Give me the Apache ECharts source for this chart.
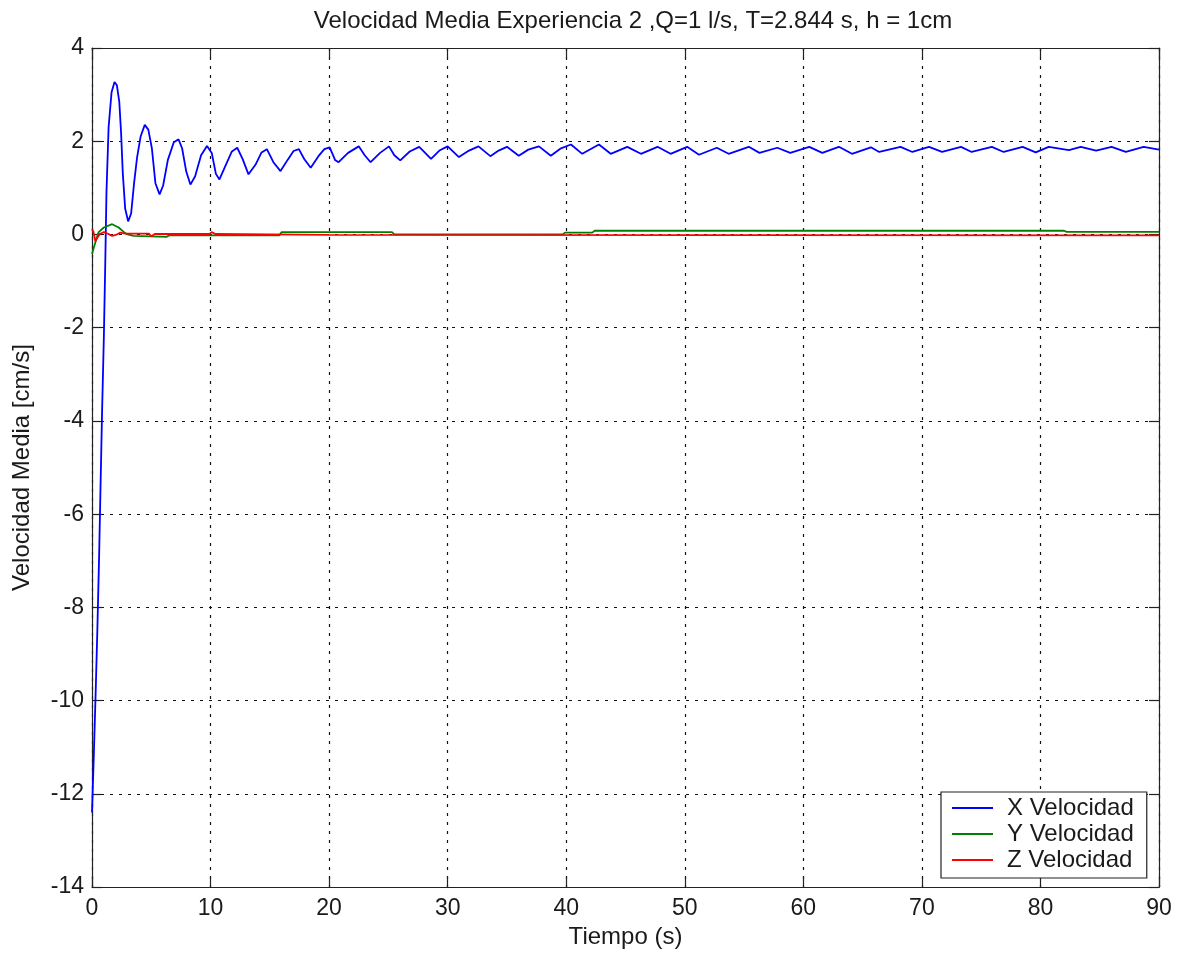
<!DOCTYPE html>
<html>
<head>
<meta charset="utf-8">
<script src="https://cdn.jsdelivr.net/npm/echarts@6/dist/echarts.min.js"></script>
<style>
  html, body { margin: 0; padding: 0; background: #fff; }
  #chart { width: 1177px; height: 954px; }
</style>
</head>
<body>
<div id="chart"></div>
<script>
// Mean velocity components over time (cm/s)
const timeX = [0.0, 0.15, 0.3, 0.45, 0.6, 0.72, 0.85, 1.0, 1.12, 1.22, 1.4, 1.65, 1.9, 2.1, 2.3, 2.45, 2.6, 2.8, 3.05, 3.3, 3.55, 3.8, 4.1, 4.45, 4.75, 5.05, 5.35, 5.7, 6.0, 6.4, 6.9, 7.3, 7.6, 7.95, 8.3, 8.7, 9.2, 9.7, 10.1, 10.45, 10.75, 11.3, 11.8, 12.25, 12.7, 13.2, 13.8, 14.3, 14.75, 15.3, 15.9, 16.5, 17.0, 17.45, 17.9, 18.45, 19.1, 19.6, 20.05, 20.5, 20.8, 21.6, 22.5, 23.0, 23.5, 24.3, 25.05, 25.5, 26.0, 26.8, 27.6, 28.6, 29.3, 30.0, 30.95, 31.8, 32.6, 33.6, 34.3, 35.0, 36.0, 36.8, 37.7, 38.7, 39.5, 40.4, 41.35, 42.76, 43.75, 45.15, 46.3, 47.7, 48.8, 50.2, 51.2, 52.7, 53.7, 55.4, 56.3, 57.8, 58.9, 60.5, 61.6, 63.0, 64.1, 65.7, 66.4, 68.2, 69.2, 70.6, 71.7, 73.3, 74.2, 75.9, 76.9, 78.5, 79.6, 80.7, 82.4, 83.4, 84.7, 86.0, 87.2, 88.7, 90.0];
const velX = [-12.4, -11.2, -9.9, -8.5, -6.9, -5.4, -3.8, -2.2, -0.6, 0.9, 2.3, 3.05, 3.27, 3.2, 2.85, 2.2, 1.3, 0.55, 0.28, 0.45, 1.1, 1.65, 2.1, 2.35, 2.25, 1.85, 1.1, 0.86, 1.05, 1.6, 1.98, 2.04, 1.85, 1.35, 1.07, 1.25, 1.7, 1.9, 1.75, 1.3, 1.18, 1.5, 1.78, 1.86, 1.62, 1.29, 1.5, 1.76, 1.83, 1.55, 1.36, 1.6, 1.79, 1.83, 1.62, 1.43, 1.68, 1.83, 1.87, 1.6, 1.55, 1.75, 1.89, 1.7, 1.55, 1.75, 1.89, 1.7, 1.59, 1.78, 1.88, 1.62, 1.8, 1.89, 1.66, 1.8, 1.89, 1.68, 1.8, 1.88, 1.69, 1.82, 1.89, 1.69, 1.84, 1.93, 1.73, 1.93, 1.73, 1.88, 1.73, 1.88, 1.73, 1.88, 1.71, 1.86, 1.73, 1.88, 1.75, 1.86, 1.75, 1.88, 1.75, 1.88, 1.73, 1.87, 1.77, 1.88, 1.77, 1.88, 1.77, 1.88, 1.77, 1.88, 1.77, 1.88, 1.76, 1.88, 1.81, 1.88, 1.8, 1.88, 1.77, 1.88, 1.82];

const timeY = [0, 0.28, 0.56, 1.0, 1.7, 2.25, 2.7, 3.0, 3.5, 6.3, 6.5, 15.8, 16.0, 25.3, 25.5, 39.7, 39.9, 42.2, 42.4, 82.0, 82.2, 90];
const velY = [-0.42, -0.17, 0.05, 0.15, 0.22, 0.15, 0.05, 0.0, -0.03, -0.05, -0.02, -0.02, 0.05, 0.05, 0.0, 0.0, 0.04, 0.04, 0.08, 0.08, 0.055, 0.055];

const timeZ = [0, 0.12, 0.28, 0.4, 0.65, 1.0, 1.3, 1.7, 2.0, 2.4, 2.8, 4.8, 5.0, 5.3, 9.9, 10.1, 10.4, 15.0, 20.0, 90];
const velZ = [0.11, 0.06, -0.14, -0.1, 0.01, 0.05, 0.02, -0.03, -0.01, 0.04, 0.02, 0.02, -0.04, 0.01, 0.01, 0.05, 0.01, 0.0, -0.01, -0.02];

const seriesNames = ['X Velocidad', 'Y Velocidad', 'Z Velocidad'];
const seriesColors = ['#0000ff', '#008000', '#ff0000'];
const xTicks = { min: 0, max: 90, interval: 10 };
const yTicks = { min: -14, max: 4, interval: 2 };

const pairs = (t, v) => t.map((ti, i) => [ti, v[i]]);

const FONT = '"Liberation Sans", Arial, sans-serif';
const TXT = '#1a1a1a';

const gridDots = { show: true, lineStyle: { color: '#111', width: 1.2, type: [3, 6] } };
const frameLine = { show: true, onZero: false, lineStyle: { color: '#222', width: 1.2 } };
const inTick = { show: true, inside: true, length: 10, lineStyle: { color: '#222', width: 1.2 } };

const chart = echarts.init(document.getElementById('chart'), null, { renderer: 'canvas' });
chart.setOption({
  animation: false,
  backgroundColor: '#fff',
  title: {
    text: 'Velocidad Media Experiencia 2 ,Q=1 l/s, T=2.844 s, h = 1cm',
    left: 628, top: 4, textAlign: 'center',
    textStyle: { fontFamily: FONT, fontSize: 24, fontWeight: 'normal', color: TXT }
  },
  grid: { left: 92, right: 18, top: 48, bottom: 64, containLabel: false },
  xAxis: [
    {
      type: 'value', position: 'bottom', ...xTicks,
      name: 'Tiempo (s)', nameLocation: 'middle', nameGap: 37,
      nameTextStyle: { fontFamily: FONT, fontSize: 24, color: TXT },
      axisLine: frameLine, axisTick: inTick,
      axisLabel: { fontFamily: FONT, fontSize: 23, color: TXT, margin: 10 },
      splitLine: gridDots
    },
    {
      type: 'value', position: 'top', ...xTicks,
      axisLine: frameLine, axisTick: inTick,
      axisLabel: { show: false }, splitLine: { show: false }
    }
  ],
  yAxis: [
    {
      type: 'value', position: 'left', ...yTicks,
      name: 'Velocidad Media [cm/s]', nameLocation: 'middle', nameGap: 58,
      nameTextStyle: { fontFamily: FONT, fontSize: 24, color: TXT },
      axisLine: frameLine, axisTick: inTick,
      axisLabel: { fontFamily: FONT, fontSize: 23, color: TXT, margin: 8 },
      splitLine: gridDots
    },
    {
      type: 'value', position: 'right', ...yTicks,
      axisLine: frameLine, axisTick: inTick,
      axisLabel: { show: false }, splitLine: { show: false }
    }
  ],
  legend: {
    data: seriesNames,
    orient: 'vertical',
    left: 941, top: 792,
    padding: [3, 13, 5, 11],
    icon: 'rect',
    itemWidth: 41, itemHeight: 2, itemGap: 0,
    backgroundColor: '#fff',
    borderColor: '#222', borderWidth: 1.2, borderRadius: 0,
    textStyle: { fontFamily: FONT, fontSize: 24, color: TXT, lineHeight: 26, padding: [0, 0, 0, 9] }
  },
  series: [
    { name: seriesNames[0], data: pairs(timeX, velX) },
    { name: seriesNames[1], data: pairs(timeY, velY) },
    { name: seriesNames[2], data: pairs(timeZ, velZ) }
  ].map((s, i) => ({
    ...s,
    type: 'line',
    xAxisIndex: 0, yAxisIndex: 0,
    symbol: 'none',
    color: seriesColors[i],
    lineStyle: { color: seriesColors[i], width: 1.8 },
    z: 3 + i
  }))
});
</script>
</body>
</html>
